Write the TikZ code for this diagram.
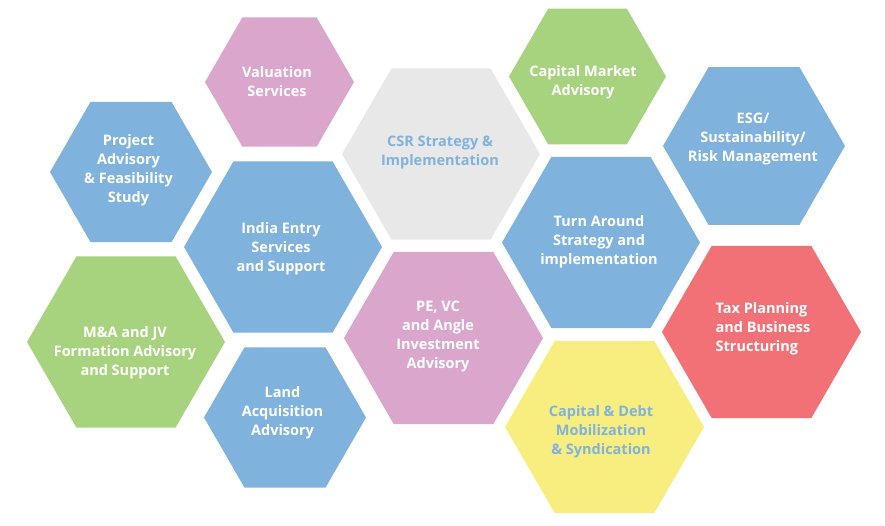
\documentclass[tikz,border=0pt]{standalone}
\usepackage{fontspec}
\setmainfont{Open Sans}
\usetikzlibrary{shapes.geometric}
\definecolor{hexblue}{RGB}{128,178,222}
\definecolor{hexpink}{RGB}{219,166,204}
\definecolor{hexgreen}{RGB}{168,211,126}
\definecolor{hexgrey}{RGB}{232,232,232}
\definecolor{hexred}{RGB}{241,113,118}
\definecolor{hexyellow}{RGB}{248,238,127}

\begin{document}
\begin{tikzpicture}[x=1pt, y=-1pt,
  hexa/.style={regular polygon, regular polygon sides=6, inner sep=0pt, draw=none, fill=#1},
  hextext/.style={text=white, font=\bfseries\fontsize{14.5}{19}\selectfont, align=center, inner sep=0pt, yshift=-2pt}]
  \useasboundingbox (0,0) rectangle (885,525);

  % hexagons
  \node[hexa=hexpink, minimum size=149pt] (valuation) at (279.5,82) {};
  \node[hexa=hexblue, minimum size=162pt] (project) at (131,172) {};
  \node[hexa=hexblue, minimum size=198pt] (india) at (283,247) {};
  \node[hexa=hexgrey, minimum size=198pt] (csr) at (441,154) {};
  \node[hexa=hexgreen, minimum size=157pt] (capmarket) at (587.5,76.5) {};
  \node[hexa=hexblue, minimum size=182pt] (esg) at (754,146) {};
  \node[hexa=hexblue, minimum size=198pt] (turnaround) at (601,242.5) {};
  \node[hexa=hexred, minimum size=199pt] (tax) at (761.5,332) {};
  \node[hexa=hexyellow, minimum size=199pt] (capdebt) at (604.5,427) {};
  \node[hexa=hexpink, minimum size=199pt] (pevc) at (443.5,338) {};
  \node[hexa=hexgreen, minimum size=198pt] (merger) at (126,342) {};
  \node[hexa=hexblue, minimum size=162pt] (land) at (285,417.5) {};

  % texts
  \node[hextext] (valuation-t) at (277,80) {Valuation\\Services};
  \node[hextext] (project-t) at (128.5,168.5) {Project\\Advisory\\\& Feasibility\\Study};
  \node[hextext] (india-t) at (281,247) {India Entry\\Services\\and Support};
  \node[hextext, text=hexblue] (csr-t) at (440,150) {CSR Strategy \&\\Implementation};
  \node[hextext] (capmarket-t) at (583,80) {Capital Market\\Advisory};
  \node[hextext] (esg-t) at (753,137) {ESG/\\Sustainability/\\Risk Management};
  \node[hextext] (turnaround-t) at (599,240) {Turn Around\\Strategy and\\implementation};
  \node[hextext, align=left] (tax-t) at (763,327) {Tax Planning\\and Business\\Structuring};
  \node[hextext, text=hexblue] (capdebt-t) at (601,430) {Capital \& Debt\\Mobilization\\\& Syndication};
  \node[hextext] (pevc-t) at (438,334.5) {PE, VC\\and Angle\\Investment\\Advisory};
  \node[hextext] (merger-t) at (125,351) {M\&A and JV\\Formation Advisory\\and Support};
  \node[hextext] (land-t) at (282.5,411) {Land\\Acquisition\\Advisory};
\end{tikzpicture}
\end{document}
